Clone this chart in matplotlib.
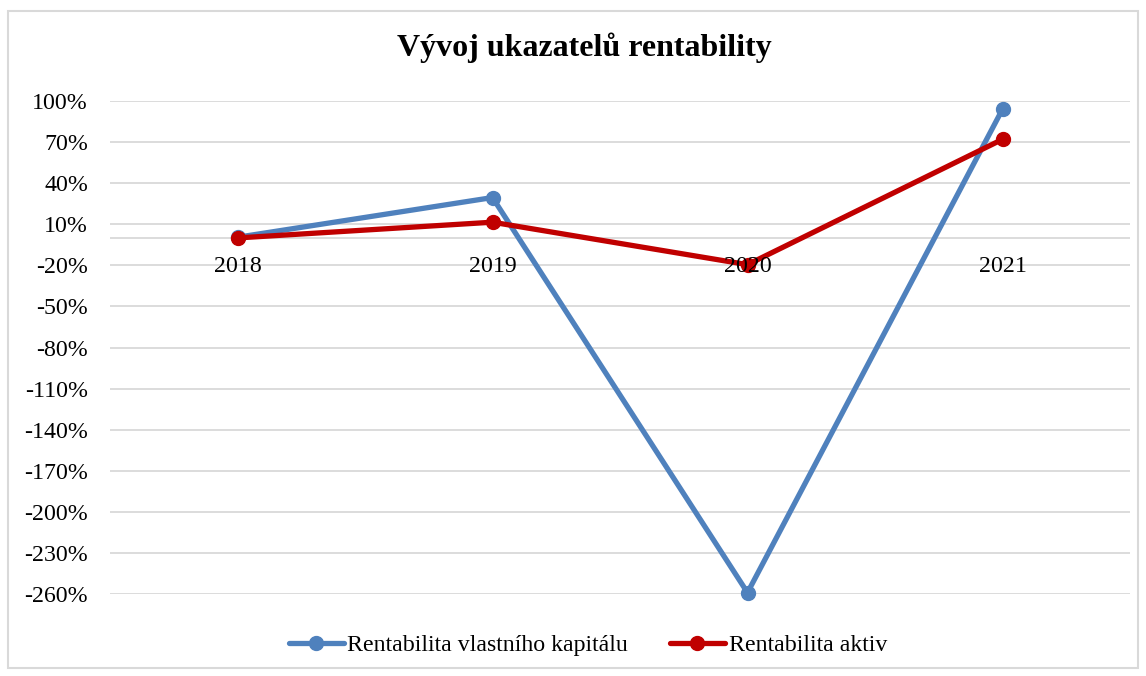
import matplotlib.pyplot as plt
from matplotlib.patches import Rectangle
from matplotlib.ticker import FuncFormatter

years = ['2018', '2019', '2020', '2021']
roe = [0.5, 29.5, -259, 94]      # Rentabilita vlastního kapitálu, %
roa = [0.0, 11.5, -19.5, 72]     # Rentabilita aktiv, %
yticks = list(range(-260, 101, 30))

plt.rcParams['font.family'] = ['Liberation Serif', 'DejaVu Serif']
fs = 17.2

fig = plt.figure(figsize=(11.46, 6.76), dpi=100)
fig.patches.append(Rectangle((8 / 1146, 8 / 676), 1130 / 1146, 657 / 676,
                             transform=fig.transFigure, fill=False,
                             edgecolor='#d9d9d9', linewidth=1.5))

ax = fig.add_axes([110 / 1146, 1 - 594 / 676, 1020 / 1146, 493 / 676])
x = range(len(years))
ax.plot(x, roe, color='#4f81bd', linewidth=3.8, marker='o', markersize=10,
        label='Rentabilita vlastního kapitálu', solid_capstyle='round',
        zorder=3, clip_on=False)
ax.plot(x, roa, color='#c00000', linewidth=3.8, marker='o', markersize=10,
        label='Rentabilita aktiv', solid_capstyle='round', zorder=4, clip_on=False)

ax.set_xlim(-0.5, 3.5)
ax.set_ylim(-260, 100)
ax.set_yticks(yticks)
ax.yaxis.set_major_formatter(FuncFormatter(lambda v, p: f'{int(v)}%'))
ax.grid(axis='y', color='#d9d9d9', linewidth=1.3)
ax.axhline(0, color='#d9d9d9', linewidth=1.3, zorder=1)
for s in ax.spines.values():
    s.set_visible(False)
ax.tick_params(axis='both', length=0, labelsize=fs)
ax.tick_params(axis='y', pad=15.8)
ax.set_xticks([])
# year labels sit on top of the lines, like in the original
for i, yr in enumerate(years):
    ax.text(i, -13, yr, ha='center', va='top', fontsize=fs, zorder=6)

fig.text(0.51, 1 - 48 / 676, 'Vývoj ukazatelů rentability', ha='center', va='center',
         fontsize=23, fontweight='bold')
fig.legend(loc='center', bbox_to_anchor=(0.513, 1 - 645 / 676), ncol=2, frameon=False,
           fontsize=fs, handlelength=2.3, columnspacing=1.75, handletextpad=0.15)

fig.savefig('out.png', dpi=100)
